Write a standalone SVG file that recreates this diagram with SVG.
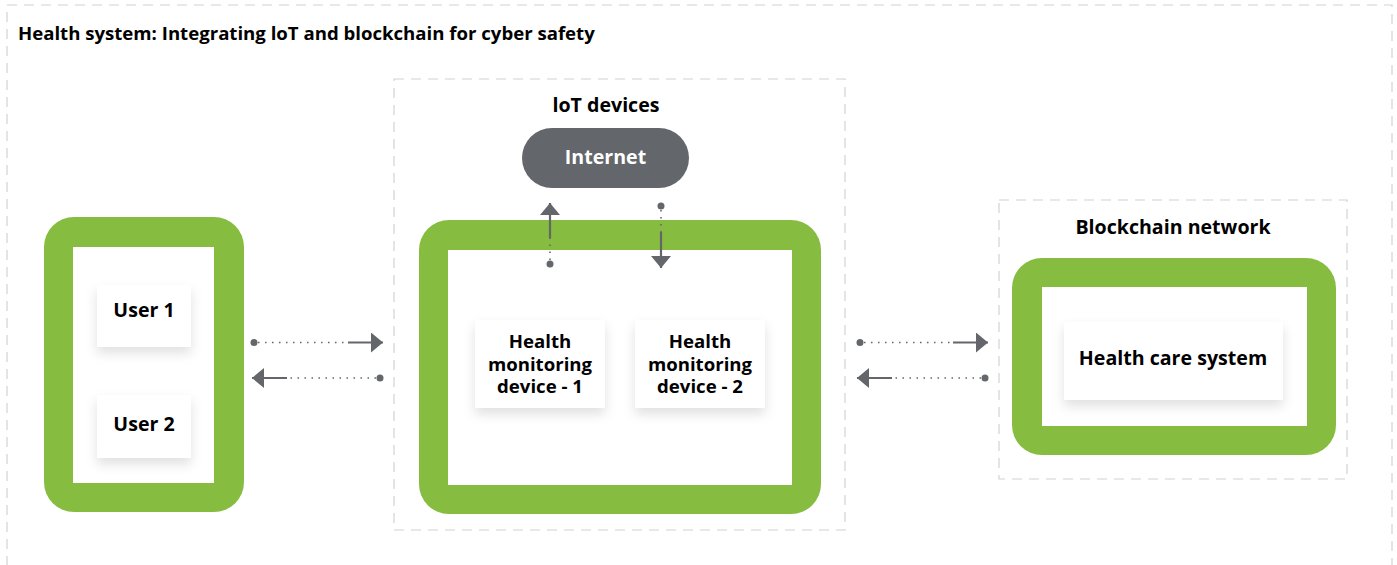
<svg xmlns="http://www.w3.org/2000/svg" width="1397" height="565" viewBox="0 0 1397 565">
<style>
.frame{fill:none;stroke:#d2d2d2;stroke-width:1.2;stroke-dasharray:10 7}
.green{fill:#86bc40}
.inner{fill:#ffffff}
.card{fill:#ffffff;filter:url(#sh)}
.t{font-family:"Open Sans","Liberation Sans",sans-serif;font-weight:bold;fill:#000;text-anchor:middle}
.lbl{font-size:19.6px}
.dev{font-size:18.6px}
.dot{fill:none;stroke:#63666a;stroke-width:1.6;stroke-dasharray:1.5 5.5}
.sol{stroke:#63666a;stroke-width:2.2;fill:none}
.end{fill:#63666a}
</style>
<defs>
<filter id="sh" x="-20%" y="-20%" width="140%" height="160%">
<feDropShadow dx="0" dy="6" stdDeviation="6" flood-color="#000" flood-opacity="0.12"/>
</filter>
<marker id="ah" viewBox="0 0 12 20" refX="12" refY="10" markerWidth="12" markerHeight="20" markerUnits="userSpaceOnUse" orient="auto">
<path d="M0,0 L12,10 L0,20 Z" fill="#63666a"/>
</marker>
</defs>
<rect class="frame" x="7" y="5" width="1385" height="570"/>
<text class="t" x="18" y="40" font-size="18.6" style="text-anchor:start">Health system: Integrating loT and blockchain for cyber safety</text>

<g id="users">
<rect class="green" x="44" y="217" width="200" height="295" rx="30"/>
<rect class="inner" x="73" y="247" width="141" height="236"/>
<g id="user1"><rect class="card" x="97" y="285" width="94" height="62"/><text class="t lbl" x="144" y="317">User 1</text></g>
<g id="user2"><rect class="card" x="97" y="395" width="94" height="63"/><text class="t lbl" x="144" y="431">User 2</text></g>
</g>

<g id="iot">
<rect class="frame" x="394" y="79" width="451" height="451"/>
<text class="t lbl" x="606" y="112">loT devices</text>
<g id="internet"><rect x="522" y="128" width="167" height="60" rx="30" fill="#63666a"/><text class="t lbl" x="605.5" y="164" style="fill:#fff">Internet</text></g>
<rect class="green" x="419" y="220" width="402" height="294" rx="30"/>
<rect class="inner" x="448" y="250" width="344" height="235"/>
<g id="device1"><rect class="card" x="475" y="320" width="130" height="88"/>
<text class="t dev" x="540" y="348">Health</text><text class="t dev" x="540" y="371">monitoring</text><text class="t dev" x="540" y="393">device - 1</text></g>
<g id="device2"><rect class="card" x="635" y="320" width="130" height="88"/>
<text class="t dev" x="700" y="348">Health</text><text class="t dev" x="700" y="371">monitoring</text><text class="t dev" x="700" y="393">device - 2</text></g>
</g>

<g id="blockchain">
<rect class="frame" x="999" y="200" width="348" height="279"/>
<text class="t lbl" x="1173" y="234">Blockchain network</text>
<rect class="green" x="1012" y="258" width="324" height="197" rx="30"/>
<rect class="inner" x="1042" y="287" width="265" height="139"/>
<g id="hcs"><rect class="card" x="1064" y="322" width="219" height="78"/><text class="t lbl" x="1173" y="365">Health care system</text></g>
</g>

<g id="connectors">
<circle class="end" cx="254" cy="342.5" r="3.5"/><line class="dot" x1="258" y1="342.5" x2="348" y2="342.5"/><line class="sol" x1="348" y1="342.5" x2="383" y2="342.5" marker-end="url(#ah)"/>
<circle class="end" cx="380" cy="378" r="3.5"/><line class="dot" x1="376" y1="378" x2="287" y2="378"/><line class="sol" x1="287" y1="378" x2="252" y2="378" marker-end="url(#ah)"/>
<circle class="end" cx="550" cy="264" r="3.5"/><line class="dot" x1="550" y1="260" x2="550" y2="238"/><line class="sol" x1="550" y1="238" x2="550" y2="203" marker-end="url(#ah)"/>
<circle class="end" cx="661" cy="206" r="3.5"/><line class="dot" x1="661" y1="210" x2="661" y2="232"/><line class="sol" x1="661" y1="232" x2="661" y2="268" marker-end="url(#ah)"/>
<circle class="end" cx="860" cy="342.5" r="3.5"/><line class="dot" x1="864" y1="342.5" x2="953" y2="342.5"/><line class="sol" x1="953" y1="342.5" x2="988" y2="342.5" marker-end="url(#ah)"/>
<circle class="end" cx="985" cy="378" r="3.5"/><line class="dot" x1="981" y1="378" x2="892" y2="378"/><line class="sol" x1="892" y1="378" x2="857" y2="378" marker-end="url(#ah)"/>
</g>
</svg>
